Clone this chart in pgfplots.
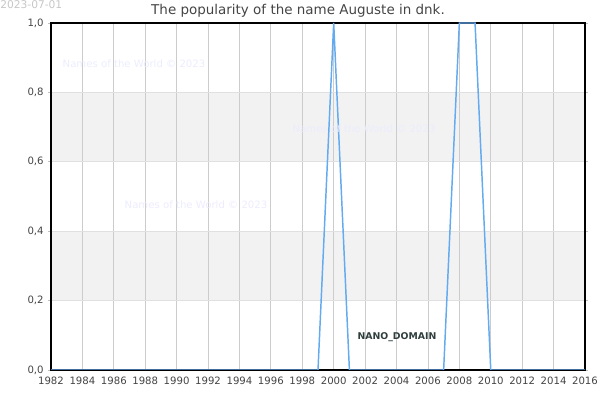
\documentclass[border=0pt]{standalone}
\usepackage{pgfplots}
\pgfplotsset{compat=1.18}
\usepackage{fontspec}
\setmainfont{DejaVu Sans}
\definecolor{linec}{HTML}{64AAF0}
\definecolor{bandc}{HTML}{F2F2F2}
\definecolor{txt}{HTML}{444444}
\definecolor{wm}{HTML}{ECECFF}
\definecolor{nano}{HTML}{2F3D3D}
\begin{document}
\begin{tikzpicture}
\begin{axis}[
  set layers,
  at={(38.25pt,22.5pt)}, anchor=south west,
  scale only axis, width=400.5pt, height=260.25pt,
  xmin=1982, xmax=2016, ymin=0, ymax=1,
  xtick={1982,1984,...,2016},
  ytick={0,0.2,0.4,0.6,0.8,1.0},
  grid=major,
  x grid style={color=black!20, line width=0.6pt},
  y grid style={color=black!12, line width=0.6pt},
  axis line style={black, line width=0.8pt},
  tick align=outside,
  major tick length=2pt,
  tick style={black!25, line width=0.5pt},
  xtick style={draw=none},
  ticklabel style={text=txt, font=\fontsize{7.6}{9}\selectfont},
  /pgf/number format/assume math mode=true,
  x tick label style={/pgf/number format/1000 sep={}},
  y tick label style={/pgf/number format/.cd, fixed, fixed zerofill, precision=1, use comma},
]
\addplot[fill=bandc, draw=none, on layer=axis background, forget plot]
  coordinates {(1982,0.2) (2016,0.2) (2016,0.4) (1982,0.4)} -- cycle;
\addplot[fill=bandc, draw=none, on layer=axis background, forget plot]
  coordinates {(1982,0.6) (2016,0.6) (2016,0.8) (1982,0.8)} -- cycle;
\addplot[linec, line width=1.1pt, mark=none] coordinates {
(1982,0) (1983,0) (1984,0) (1985,0) (1986,0) (1987,0) (1988,0) (1989,0)
(1990,0) (1991,0) (1992,0) (1993,0) (1994,0) (1995,0) (1996,0) (1997,0)
(1998,0) (1999,0) (2000,1) (2001,0) (2002,0) (2003,0) (2004,0) (2005,0)
(2006,0) (2007,0) (2008,1) (2009,1) (2010,0) (2011,0) (2012,0) (2013,0)
(2014,0) (2015,0) (2016,0)
};
\end{axis}
\node[anchor=north west, inner sep=0pt, text=black!22, font=\fontsize{8}{9}\selectfont] at (0,300pt) {2023-07-01};
\node[text=txt, font=\fontsize{10.1}{12}\selectfont] at (223.5pt,292pt) {The popularity of the name Auguste in dnk.};
\node[text=wm, font=\fontsize{7.6}{9}\selectfont] at (100.5pt,252pt) {Names of the World © 2023};
\node[text=wm, font=\fontsize{7.6}{9}\selectfont] at (273pt,203.25pt) {Names of the World © 2023};
\node[text=wm, font=\fontsize{7.6}{9}\selectfont] at (147pt,146.25pt) {Names of the World © 2023};
\node[text=nano, font=\bfseries\fontsize{7}{9}\selectfont] at (297.75pt,47.25pt) {NANO\_DOMAIN};
\pgfresetboundingbox
\path (0,0) rectangle (450pt,300pt);
\end{tikzpicture}
\end{document}
